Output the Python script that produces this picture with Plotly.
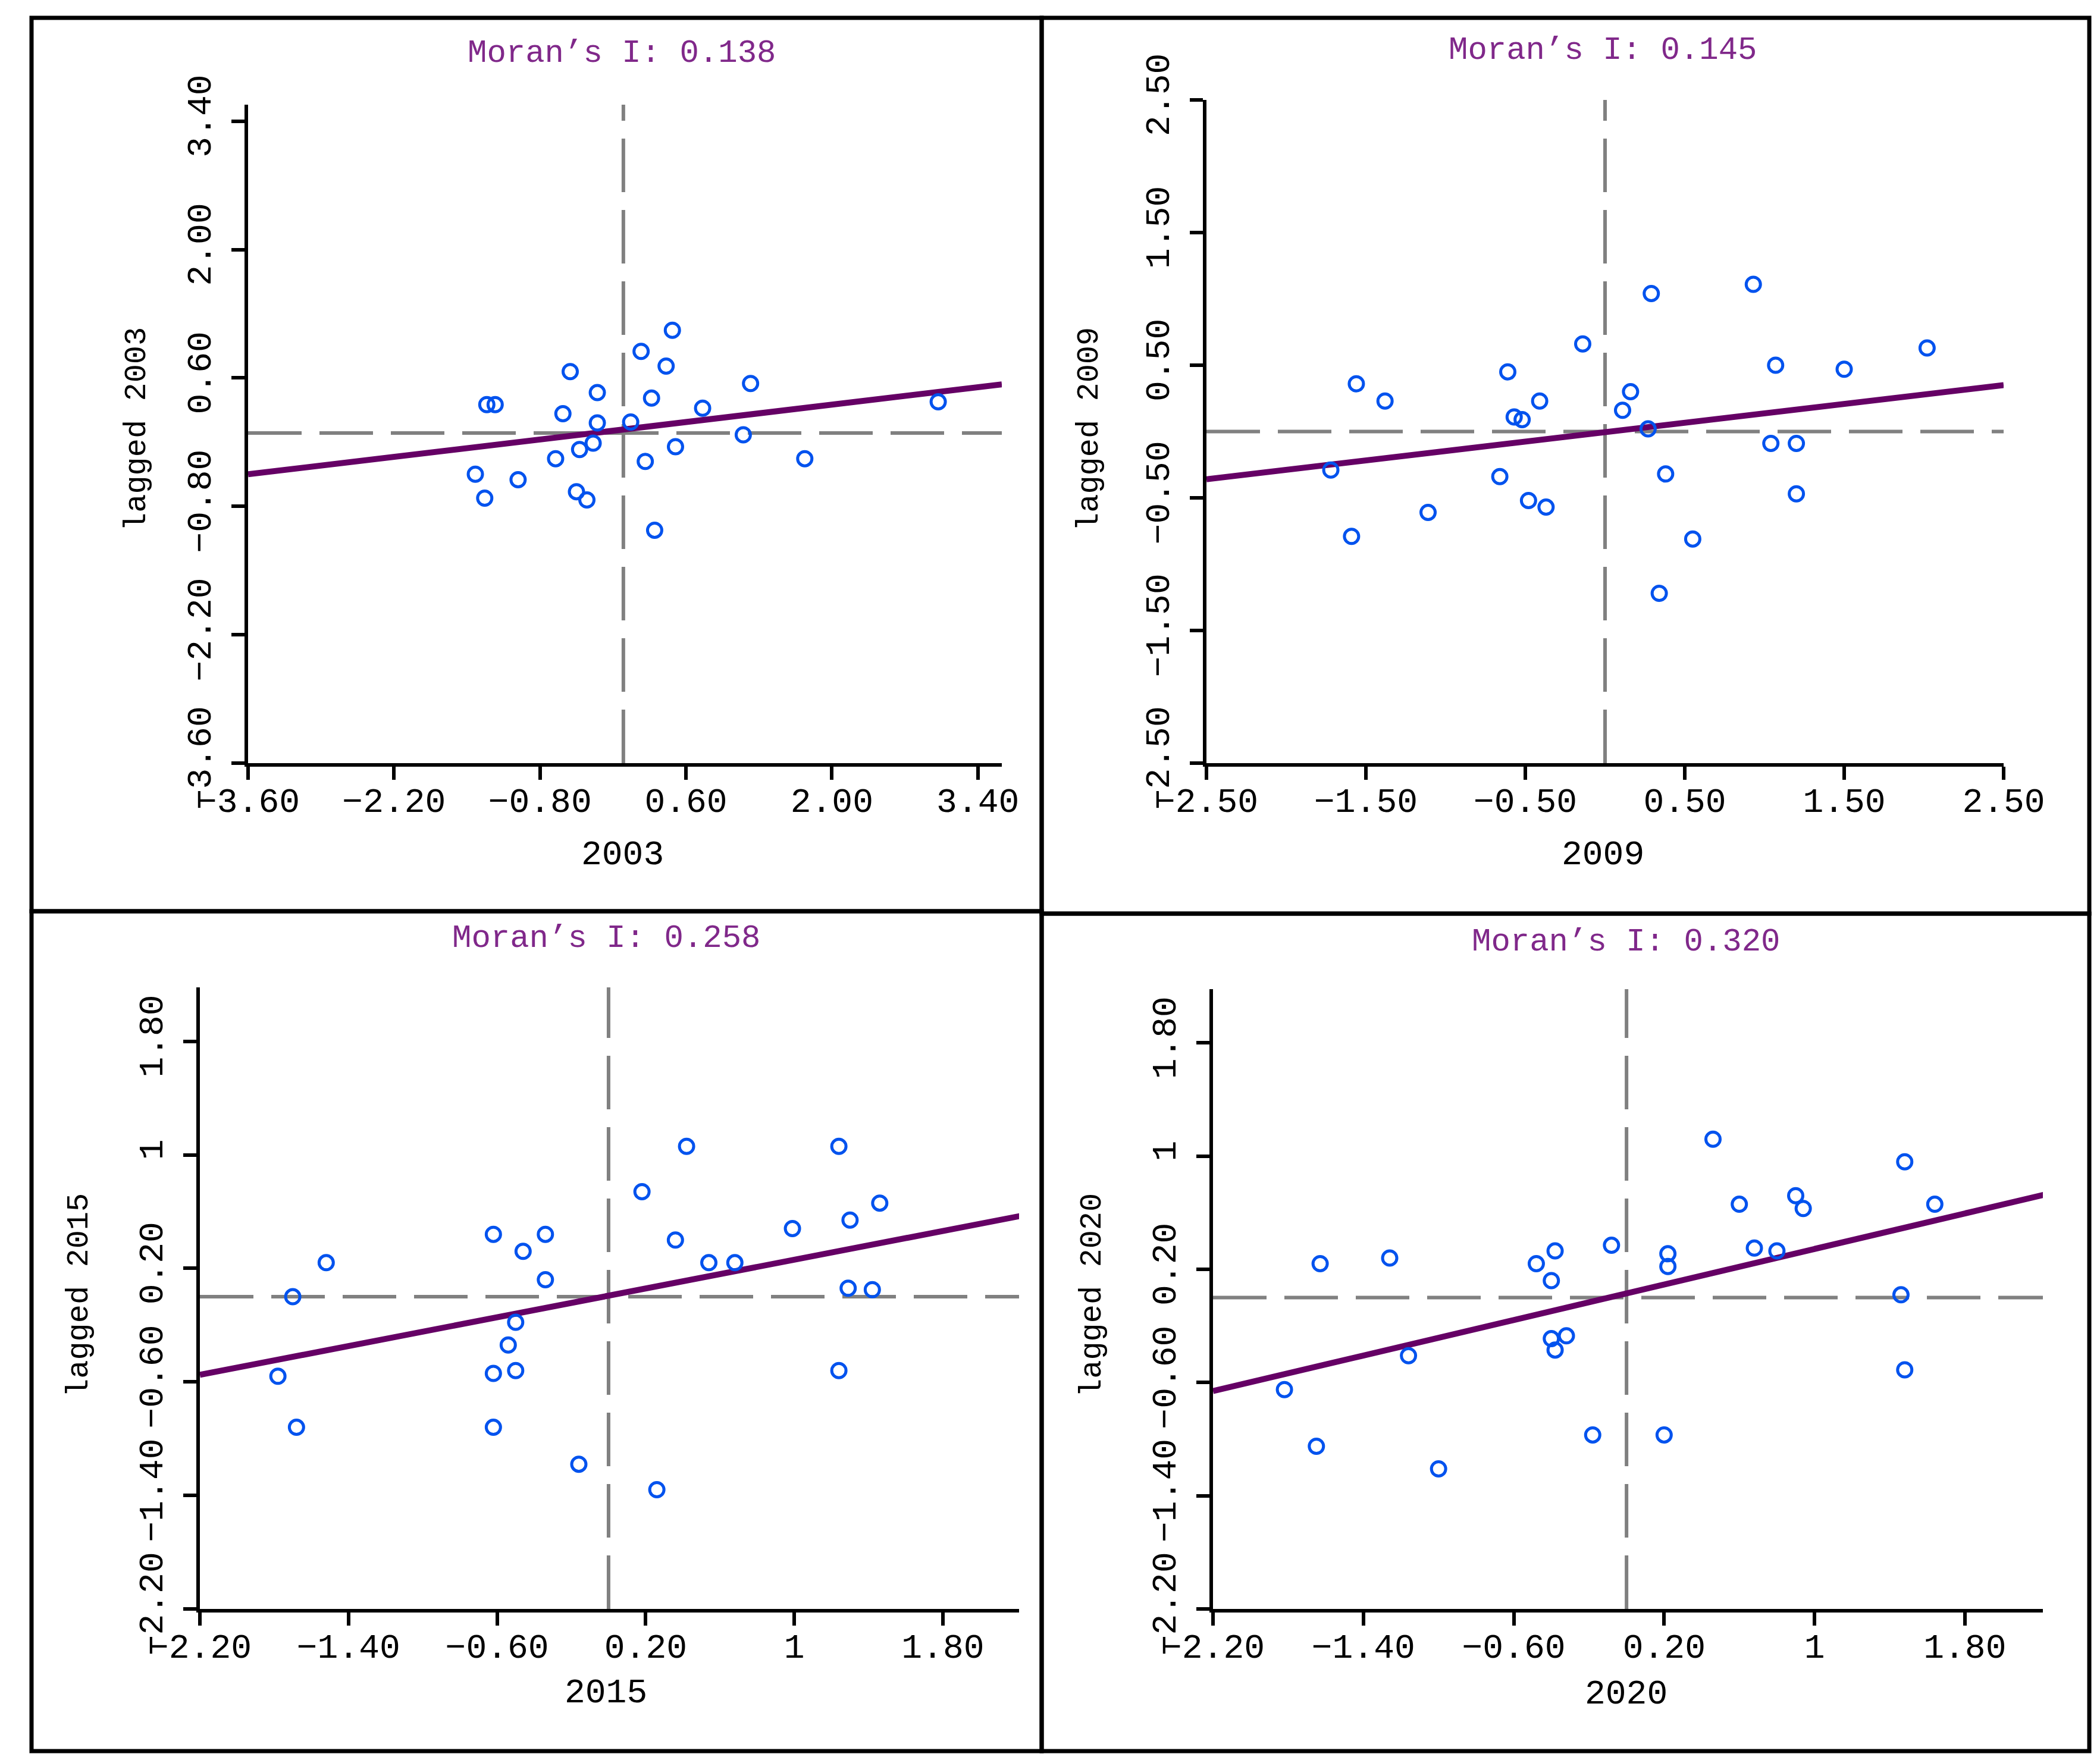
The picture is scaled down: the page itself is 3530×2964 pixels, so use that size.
import plotly.graph_objects as go
from plotly.subplots import make_subplots

W, H = 3530, 2964

# ---- data ----
years = ["2003", "2009", "2015", "2020"]
moran_i = ["0.138", "0.145", "0.258", "0.320"]

x_2003 = [0.47, 0.17, 0.41, -0.51, 1.22, -0.25, 0.27, 3.02, -1.31, -1.23, 0.76, -0.58, -0.25, 0.07,
          1.15, -0.29, -0.42, 0.50, -0.65, 1.74, 0.21, -1.42, -1.01, -0.45, -0.35, -1.33, 0.30]
y_2003 = [1.12, 0.89, 0.73, 0.67, 0.54, 0.44, 0.38, 0.34, 0.31, 0.31, 0.27, 0.21, 0.11, 0.12,
          -0.02, -0.11, -0.18, -0.15, -0.28, -0.28, -0.31, -0.45, -0.51, -0.64, -0.73, -0.71, -1.06]

x_2009 = [0.93, 0.29, -0.14, 2.02, -0.61, 1.07, 1.50, -1.56, -1.38, -0.41, 0.16, 0.11, -0.57, -0.52,
          0.27, 1.04, 1.20, -1.72, -0.66, 0.38, 1.20, -0.48, -0.37, -1.11, -1.59, 0.55, 0.34]
y_2009 = [1.11, 1.04, 0.66, 0.63, 0.45, 0.50, 0.47, 0.36, 0.23, 0.23, 0.30, 0.16, 0.11, 0.09,
          0.02, -0.09, -0.09, -0.29, -0.34, -0.32, -0.47, -0.52, -0.57, -0.61, -0.79, -0.81, -1.22]

x_2015 = [0.42, 1.24, 0.18, 1.46, 1.30, 0.99, -0.62, -0.34, 0.36, -0.46, -1.52, 0.54, 0.68, -0.34,
          1.29, 1.42, -1.70, -0.50, -0.54, -0.62, -0.50, -1.78, 1.24, -1.68, -0.62, -0.16, 0.26]
y_2015 = [1.06, 1.06, 0.74, 0.66, 0.54, 0.48, 0.44, 0.44, 0.40, 0.32, 0.24, 0.24, 0.24, 0.12,
          0.06, 0.05, 0.00, -0.18, -0.34, -0.54, -0.52, -0.56, -0.52, -0.92, -0.92, -1.18, -1.36]

x_2020 = [0.46, 1.48, 0.90, 0.60, 0.94, 1.64, -0.08, -0.38, 0.22, 0.68, 0.80, -1.26, -1.63, -0.48,
          0.22, -0.40, 1.46, -0.40, -0.32, -0.38, -1.16, -1.82, 1.48, -0.18, 0.20, -1.65, -1.00]
y_2020 = [1.12, 0.96, 0.72, 0.66, 0.63, 0.66, 0.37, 0.33, 0.31, 0.35, 0.33, 0.28, 0.24, 0.24,
          0.22, 0.12, 0.02, -0.29, -0.27, -0.37, -0.41, -0.65, -0.51, -0.97, -0.97, -1.05, -1.21]

# fitted line end points
fit_x_2003 = [-3.60, 3.63]
fit_y_2003 = [-0.45, 0.53]
fit_x_2009 = [-2.50, 2.50]
fit_y_2009 = [-0.36, 0.35]
fit_x_2015 = [-2.20, 2.22]
fit_y_2015 = [-0.55, 0.57]
fit_x_2020 = [-2.20, 2.23]
fit_y_2020 = [-0.66, 0.73]

# tick values / labels
ticks_2003 = [-3.6, -2.2, -0.8, 0.6, 2.0, 3.4]
labels_2003 = ["\u22123.60", "\u22122.20", "\u22120.80", "0.60", "2.00", "3.40"]
ticks_2009 = [-2.5, -1.5, -0.5, 0.5, 1.5, 2.5]
labels_2009 = ["\u22122.50", "\u22121.50", "\u22120.50", "0.50", "1.50", "2.50"]
ticks_late = [-2.2, -1.4, -0.6, 0.2, 1.0, 1.8]
labels_late = ["\u22122.20", "\u22121.40", "\u22120.60", "0.20", "1", "1.80"]

panels = [
    # data, fit, ticks, ranges, pixel box of the axes (left, right, top, bottom)
    dict(x=x_2003, y=y_2003, fx=fit_x_2003, fy=fit_y_2003, tv=ticks_2003, tt=labels_2003,
         xr=[-3.6, 3.63], yr=[-3.6, 3.58], box=(409, 1676, 168, 1275),
         title=(1037, 82), xtitle=(1038, 1429), ytitle=(222, 714)),
    dict(x=x_2009, y=y_2009, fx=fit_x_2009, fy=fit_y_2009, tv=ticks_2009, tt=labels_2009,
         xr=[-2.5, 2.5], yr=[-2.5, 2.5], box=(2020, 3360, 160, 1275),
         title=(2686, 77), xtitle=(2686, 1429), ytitle=(1823, 714)),
    dict(x=x_2015, y=y_2015, fx=fit_x_2015, fy=fit_y_2015, tv=ticks_late, tt=labels_late,
         xr=[-2.2, 2.21], yr=[-2.2, 2.18], box=(328, 1705, 1652, 2697),
         title=(1011, 1570), xtitle=(1011, 2838), ytitle=(125, 2170)),
    dict(x=x_2020, y=y_2020, fx=fit_x_2020, fy=fit_y_2020, tv=ticks_late, tt=labels_late,
         xr=[-2.2, 2.215], yr=[-2.2, 2.18], box=(2031, 3426, 1655, 2697),
         title=(2725, 1575), xtitle=(2725, 2840), ytitle=(1828, 2170)),
]

FONT = "Liberation Mono"
PURPLE = "#650065"
BLUE = "#0052ee"
GREY = "#808080"


def px(x):
    return x / W


def py(y):
    return 1 - y / H


fig = make_subplots(rows=2, cols=2)

for i, p in enumerate(panels):
    row, col = i // 2 + 1, i % 2 + 1
    left, right, top, bottom = p["box"]

    fig.add_trace(go.Scatter(x=p["fx"], y=p["fy"], mode="lines",
                             line=dict(color=PURPLE, width=10), hoverinfo="skip"),
                  row=row, col=col)
    fig.add_trace(go.Scatter(x=p["x"], y=p["y"], mode="markers",
                             marker=dict(symbol="circle-open", size=24, color=BLUE,
                                         line=dict(width=5, color=BLUE))),
                  row=row, col=col)

    # mean lines
    fig.add_hline(y=0, line=dict(color=GREY, width=6, dash="90px,30px"), layer="below",
                  row=row, col=col)
    fig.add_vline(x=0, line=dict(color=GREY, width=6, dash="90px,30px"), layer="below",
                  row=row, col=col)

    axis_common = dict(showline=True, linecolor="black", linewidth=6, ticks="outside",
                       ticklen=22, tickwidth=6, tickcolor="black", showgrid=False,
                       zeroline=False, tickvals=p["tv"], ticktext=p["tt"], automargin=False,
                       tickfont=dict(family=FONT, size=58, color="black"))
    fig.update_xaxes(range=p["xr"], domain=[px(left), px(right)], tickangle=0,
                     ticklabelstandoff=-16, **axis_common, row=row, col=col)
    fig.update_yaxes(range=p["yr"], domain=[py(bottom), py(top)], tickangle=-90,
                     ticklabelstandoff=12, **axis_common, row=row, col=col)

    fig.add_annotation(x=px(p["title"][0]), y=py(p["title"][1]), xref="paper", yref="paper",
                       xanchor="center", yanchor="middle",
                       text=f"Moran\u2019s I: {moran_i[i]}", showarrow=False,
                       font=dict(family=FONT, size=54, color="#80288a"))
    fig.add_annotation(x=px(p["xtitle"][0]), y=py(p["xtitle"][1]), xref="paper", yref="paper",
                       xanchor="center", yanchor="middle",
                       text=years[i], showarrow=False,
                       font=dict(family=FONT, size=58, color="black"))
    fig.add_annotation(x=px(p["ytitle"][0]), y=py(p["ytitle"][1]), xref="paper", yref="paper",
                       xanchor="center", yanchor="middle",
                       text=f"lagged {years[i]}", showarrow=False, textangle=-90,
                       font=dict(family=FONT, size=52, color="black"))

# panel frames
frames = [(45, 1743, 22, 1524), (1743, 3504, 22, 1528),
          (45, 1743, 1524, 2936), (1743, 3504, 1528, 2936)]
for x0, x1, y0, y1 in frames:
    fig.add_shape(type="rect", xref="paper", yref="paper",
                  x0=px(x0), x1=px(x1), y0=py(y1), y1=py(y0),
                  line=dict(color="black", width=7))

fig.update_layout(width=W, height=H, margin=dict(l=0, r=0, t=0, b=0, autoexpand=False),
                  paper_bgcolor="white", plot_bgcolor="white", showlegend=False,
                  font=dict(family=FONT))

fig.write_html("out.html")
